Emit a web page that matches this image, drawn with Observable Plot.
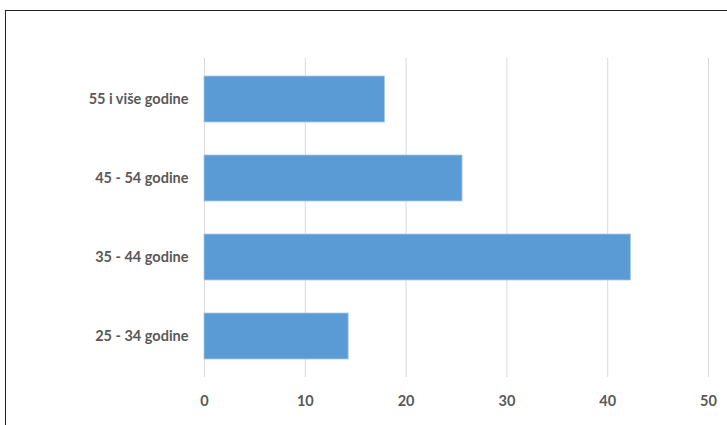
<!DOCTYPE html>
<html><head><meta charset="utf-8">
<script src="https://cdn.jsdelivr.net/npm/d3@7"></script>
<script src="https://cdn.jsdelivr.net/npm/@observablehq/plot@0.6"></script>
<style>
html,body{margin:0;padding:0;background:#fff;overflow:hidden;}
#wrap{position:relative;width:727px;height:425px;}
#border{position:absolute;left:5px;top:10px;width:800px;height:500px;border:1.5px solid #222;box-sizing:border-box;}
#chart{position:absolute;left:0;top:0;}
</style>
</head><body>
<div id="wrap"><div id="border"></div><div id="chart"></div></div>
<script>
const categories = ["55 i više godine", "45 - 54 godine", "35 - 44 godine", "25 - 34 godine"];
const values = [17.9, 25.6, 42.3, 14.3];
const xTicks = [0, 10, 20, 30, 40, 50];

const data = categories.map((c, i) => ({category: c, value: values[i]}));

const plot = Plot.plot({
  width: 727,
  height: 425,
  marginLeft: 204,
  marginRight: 19,
  marginTop: 58,
  marginBottom: 48,
  style: {fontFamily: "Lato, 'Open Sans', sans-serif", fontSize: "14.5px", fontWeight: "bold", color: "#595959", background: "transparent"},
  x: {domain: [0, 50], ticks: xTicks, label: null},
  y: {domain: categories, label: null, paddingInner: 0.42, paddingOuter: 0.21},
  marks: [
    Plot.ruleX(xTicks, {stroke: "#d9d9d9", strokeWidth: 1, strokeOpacity: 1}),
    Plot.barX(data, {x: "value", y: "category", fill: "#5B9BD5", stroke: "#a8c8ea", strokeWidth: 0.8}),
    Plot.axisX({ticks: xTicks, tickSize: 0, tickPadding: 18, label: null, fill: "#595959"}),
    Plot.axisY({tickSize: 0, tickPadding: 16, label: null, fill: "#595959"})
  ]
});
document.getElementById("chart").appendChild(plot);
</script>
</body></html>
